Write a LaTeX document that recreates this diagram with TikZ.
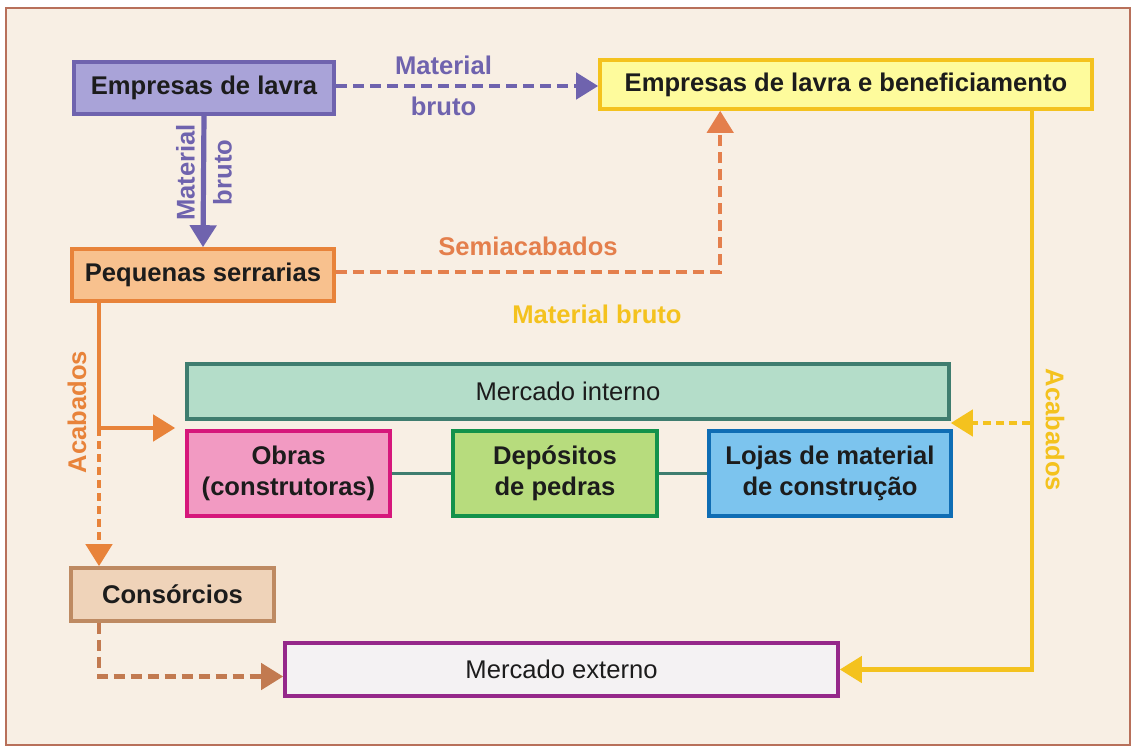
\documentclass[tikz,border=0pt]{standalone}
\usepackage{fontspec}
\setmainfont{Liberation Sans}
\usetikzlibrary{calc, arrows.meta}

\definecolor{fundo}{HTML}{F8EFE4}
\definecolor{moldura}{HTML}{B8705A}
\definecolor{roxo}{HTML}{6F63AE}
\definecolor{roxoclaro}{HTML}{A9A3D8}
\definecolor{amarelo}{HTML}{F4C21E}
\definecolor{amareloclaro}{HTML}{FEFB9C}
\definecolor{laranja}{HTML}{E8833A}
\definecolor{laranjaclaro}{HTML}{F8C18E}
\definecolor{salmao}{HTML}{E47F4C}
\definecolor{verdeagua}{HTML}{B4DDC9}
\definecolor{petroleo}{HTML}{3F7D6F}
\definecolor{rosa}{HTML}{F29AC2}
\definecolor{magenta}{HTML}{D6177B}
\definecolor{verdeclaro}{HTML}{B7DC7D}
\definecolor{verde}{HTML}{13924B}
\definecolor{azulclaro}{HTML}{7CC4EE}
\definecolor{azul}{HTML}{0F6DB4}
\definecolor{bege}{HTML}{EFD3B9}
\definecolor{marrom}{HTML}{BE8A62}
\definecolor{tijolo}{HTML}{C27A50}
\definecolor{cinzaclaro}{HTML}{F4F2F3}
\definecolor{violeta}{HTML}{95288A}
\definecolor{texto}{HTML}{1C1C1C}

\begin{document}
\begin{tikzpicture}[x=0.5pt,y=-0.5pt,inner sep=2pt,line width=2.2pt,>={Triangle[length=11pt,width=13pt]},
  caixa/.style={draw,line width=2pt,align=center,text=texto,font=\fontsize{12.8}{15.5}\selectfont\bfseries},
  mercado/.style={caixa,font=\fontsize{12.8}{15.5}\selectfont},
  rotulo/.style={font=\fontsize{12.8}{15.5}\selectfont\bfseries},
  tracos/.style={dash pattern=on 5.5pt off 3pt},
  pontos/.style={dash pattern=on 4pt off 2.5pt}]
% fundo e moldura
\useasboundingbox (0,0) rectangle (1137,749);
\fill [white] (0,0) rectangle (1137,749);
\draw [fill=fundo,draw=moldura,line width=1pt] (6,8) rectangle (1130,745);
% caixas
\draw node [caixa,fill=roxoclaro,draw=roxo,minimum width=130pt,minimum height=25.8pt] (lavra) at (204,88) {Empresas de lavra};
\draw node [caixa,fill=amareloclaro,draw=amarelo,minimum width=245.8pt,minimum height=24.3pt] (benef) at (846,84.5) {Empresas de lavra e beneficiamento};
\draw node [caixa,fill=laranjaclaro,draw=laranja,minimum width=130.8pt,minimum height=25.8pt] (serr) at (203,275) {Pequenas serrarias};
\draw node [mercado,fill=verdeagua,draw=petroleo,minimum width=380.8pt,minimum height=27.3pt] (interno) at (568,391.5) {Mercado interno};
\draw node [caixa,fill=rosa,draw=magenta,minimum width=101.3pt,minimum height=42.3pt] (obras) at (288.5,473.5) {Obras\\(construtoras)};
\draw node [caixa,fill=verdeclaro,draw=verde,minimum width=101.8pt,minimum height=42.3pt] (depos) at (555,473.5) {Depósitos\\de pedras};
\draw node [caixa,fill=azulclaro,draw=azul,minimum width=120.8pt,minimum height=42.3pt] (lojas) at (830,473.5) {Lojas de material\\de construção};
\draw node [caixa,fill=bege,draw=marrom,minimum width=101.3pt,minimum height=26.3pt] (consorc) at (172.5,594.5) {Consórcios};
\draw node [mercado,fill=cinzaclaro,draw=violeta,minimum width=276.3pt,minimum height=26.3pt] (externo) at (561.5,669.5) {Mercado externo};
% pontos de desvio
\coordinate (ramo) at (99,428);
\coordinate (ramoam) at (1030,423);
% ligacoes
\draw [roxo,tracos,->] ([yshift=1pt]lavra.east) -- node[pos=.41,above=2.5pt,rotulo,roxo]{Material} node[pos=.41,below=2.5pt,rotulo,roxo]{bruto} ([yshift=1pt]lavra.east -| benef.west);
\draw [roxo,line width=2.6pt,->] (lavra.south) -- node[pos=.43,rotate=90,above=1pt,rotulo]{Material} node[pos=.43,rotate=90,below=1.5pt,rotulo]{bruto} (serr.north);
\draw [salmao,tracos,->] ([yshift=1.5pt]serr.east) -| node[pos=.25,above=5pt,rotulo]{Semiacabados} ([xshift=61pt]benef.south west);
\draw [laranja] (serr.south -| ramo) -- (ramo);
\draw [laranja,->,shorten >=5pt] (ramo) -- (ramo -| interno.west);
\draw [laranja,pontos,->] (ramo) -- (ramo |- consorc.north);
\draw [amarelo,->] ([xshift=-31pt]benef.south east) |- (externo.east);
\draw [amarelo,pontos,->] (ramoam) -- (ramoam -| interno.east);
\draw [tijolo,tracos,->] ([xshift=15pt]consorc.south west) |- ([yshift=-3.5pt]externo.west);
\draw [petroleo,line width=1.6pt] (obras) -- (depos);
\draw [petroleo,line width=1.6pt] (depos) -- (lojas);
% rotulos soltos
\node [rotulo,amarelo] (bruto) at (597,314) {Material bruto};
\node [rotulo,laranja,rotate=90] (acab) at (77,412) {Acabados};
\node [rotulo,amarelo,rotate=-90] (acabam) at (1055,430) {Acabados};
\end{tikzpicture}
\end{document}
